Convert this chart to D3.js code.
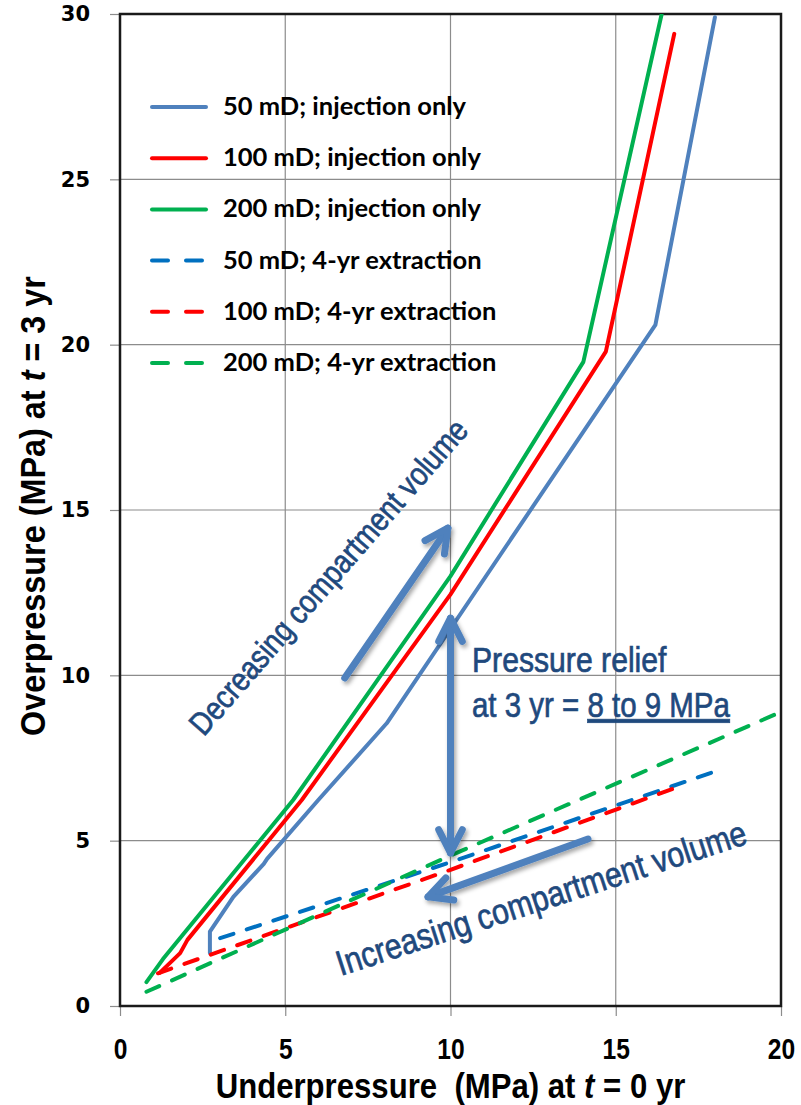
<!DOCTYPE html>
<html>
<head>
<meta charset="utf-8">
<script src="https://cdn.jsdelivr.net/npm/d3@7"></script>
<style>
  body { margin: 0; background: #fff; }
  svg { display: block; }
</style>
</head>
<body>
<svg id="chart" width="801" height="1105"></svg>
<script>
// series: [underpressure at t=0, overpressure at t=3]
const inj50 = [[2.72, 1.6], [2.72, 2.25], [3.43, 3.3], [4.35, 4.3], [4.45, 4.45], [6.0, 6.23], [8.07, 8.55], [16.2, 20.6], [18.0, 29.9]];
const inj100 = [[1.2, 1.0], [1.82, 1.6], [2.04, 2.0], [5.5, 6.23], [10.0, 12.45], [14.7, 19.79], [16.77, 29.4]];
const inj200 = [[0.8, 0.72], [1.3, 1.42], [5.24, 6.23], [10.0, 13.0], [14.02, 19.48], [16.39, 30]];
const ext50 = [[3.03, 2.05], [10.0, 4.35], [18.0, 7.09]];
const ext100 = [[1.15, 0.99], [10.0, 4.12], [17.04, 6.68]];
const ext200 = [[0.8, 0.43], [10.0, 4.55], [19.9, 8.85]];

const seriesNames = [
  "50 mD; injection only",
  "100 mD; injection only",
  "200 mD; injection only",
  "50 mD; 4-yr extraction",
  "100 mD; 4-yr extraction",
  "200 mD; 4-yr extraction",
];
const xTicks = [0, 5, 10, 15, 20];
const yTicks = [0, 5, 10, 15, 20, 25, 30];

const series = [
  { name: seriesNames[0], data: inj50, color: "#4f81bd", dashed: false },
  { name: seriesNames[1], data: inj100, color: "#ff0000", dashed: false },
  { name: seriesNames[2], data: inj200, color: "#00b050", dashed: false },
  { name: seriesNames[3], data: ext50, color: "#0070c0", dashed: true },
  { name: seriesNames[4], data: ext100, color: "#ff0000", dashed: true },
  { name: seriesNames[5], data: ext200, color: "#00b050", dashed: true },
];

// no narrow font installed: squeeze Liberation Sans horizontally instead
const sans = "'Liberation Sans', Arial, sans-serif";
const arrowColor = "#4f81bd";
const noteColor = "#1f497d";

const svg = d3.select("#chart");
const x = d3.scaleLinear().domain([0, 20]).range([120, 781]);
const y = d3.scaleLinear().domain([0, 30]).range([1006, 14]);
const [x0, x1] = x.range();
const [y0, y1] = y.range();

const defs = svg.append("defs");
defs.append("clipPath").attr("id", "plotClip")
  .append("rect").attr("x", x0).attr("y", y1).attr("width", x1 - x0).attr("height", y0 - y1);
defs.append("filter").attr("id", "shadow").attr("x", "-20%").attr("y", "-20%").attr("width", "140%").attr("height", "140%")
  .append("feDropShadow").attr("dx", 2).attr("dy", 3).attr("stdDeviation", 2)
  .attr("flood-color", "#000").attr("flood-opacity", 0.35);

// grid
svg.append("g")
  .selectAll("line").data(xTicks.slice(1, -1)).join("line")
  .attr("x1", (d) => x(d)).attr("x2", (d) => x(d)).attr("y1", y1).attr("y2", y0)
  .attr("stroke", "#8c8c8c").attr("stroke-width", 1.2);
svg.append("g")
  .selectAll("line").data(yTicks.slice(1, -1)).join("line")
  .attr("y1", (d) => y(d)).attr("y2", (d) => y(d)).attr("x1", x0).attr("x2", x1)
  .attr("stroke", "#8c8c8c").attr("stroke-width", 1.2);

// axes
const yAxis = svg.append("g").attr("transform", `translate(${x0},0)`)
  .call(d3.axisLeft(y).tickValues(yTicks).tickSize(10).tickPadding(20).tickFormat(d3.format("d")));
yAxis.select(".domain").remove();
yAxis.selectAll("line").attr("stroke", "#8c8c8c").attr("stroke-width", 1.2);
yAxis.selectAll("text").attr("font-family", "'DejaVu Sans', Verdana, sans-serif")
  .attr("font-weight", "bold").attr("font-size", 21).attr("fill", "#000");

const xAxis = svg.append("g").attr("transform", `translate(0,${y0})`)
  .call(d3.axisBottom(x).tickValues(xTicks).tickSize(10).tickPadding(22).tickFormat(d3.format("d")));
xAxis.select(".domain").remove();
xAxis.selectAll("line").attr("stroke", "#8c8c8c").attr("stroke-width", 1.2);
xAxis.selectAll("text").attr("font-family", sans)
  .attr("font-weight", "bold").attr("font-size", 30).attr("fill", "#000")
  .attr("transform", "scale(0.82,1)");

// frame
svg.append("rect").attr("x", x0).attr("y", y1).attr("width", x1 - x0).attr("height", y0 - y1)
  .attr("fill", "none").attr("stroke", "#1a1a1a").attr("stroke-width", 2.5);

// axis titles
const xTitle = svg.append("text")
  .attr("transform", `translate(${x(10)},1098) scale(0.865,1)`).attr("text-anchor", "middle")
  .attr("font-family", sans).attr("font-weight", "bold").attr("font-size", 36)
  .attr("style", "white-space:pre");
xTitle.append("tspan").text("Underpressure  (MPa) at ");
xTitle.append("tspan").text("t").attr("font-style", "italic");
xTitle.append("tspan").text(" = 0 yr");

const yTitle = svg.append("text")
  .attr("transform", `translate(45,506) rotate(-90) scale(0.9,1)`).attr("text-anchor", "middle")
  .attr("font-family", sans).attr("font-weight", "bold").attr("font-size", 36);
yTitle.append("tspan").text("Overpressure (MPa) at ");
yTitle.append("tspan").text("t").attr("font-style", "italic");
yTitle.append("tspan").text(" = 3 yr");

// lines
const line = d3.line().x((d) => x(d[0])).y((d) => y(d[1]));
svg.append("g").attr("clip-path", "url(#plotClip)")
  .selectAll("path").data(series).join("path")
  .attr("d", (d) => line(d.data))
  .attr("fill", "none")
  .attr("stroke", (d) => d.color)
  .attr("stroke-width", 4)
  .attr("stroke-linejoin", "round")
  .attr("stroke-linecap", "round")
  .attr("stroke-dasharray", (d) => (d.dashed ? "14,14" : null));

// legend
const legendRows = svg.append("g").selectAll("g").data(series).join("g")
  .attr("transform", (d, i) => `translate(152,${107 + i * 51.2})`);
legendRows.append("line")
  .attr("x1", 0).attr("x2", (d) => (d.dashed ? 52 : 54)).attr("y1", 0).attr("y2", 0)
  .attr("stroke", (d) => d.color).attr("stroke-width", 4).attr("stroke-linecap", "round")
  .attr("stroke-dasharray", (d) => (d.dashed ? "16,18" : null));
legendRows.append("text").attr("x", 71).attr("y", 8)
  .attr("font-family", "Lato, 'Open Sans', sans-serif").attr("font-weight", "bold")
  .attr("font-size", 25.5).attr("fill", "#000").text((d) => d.name);

// annotation arrows (positions in data units)
const arrows = [
  { from: [6.8, 9.92], to: [9.92, 14.45], heads: ["end"] },
  { from: [10.0, 11.73], to: [10.0, 4.63], heads: ["start", "end"] },
  { from: [14.16, 5.05], to: [9.32, 3.3], heads: ["end"] },
];
const arrowG = svg.append("g").attr("filter", "url(#shadow)")
  .attr("stroke", arrowColor).attr("stroke-width", 7).attr("fill", "none")
  .attr("stroke-linecap", "round").attr("stroke-linejoin", "round");
arrows.forEach((a) => {
  const p0 = [x(a.from[0]), y(a.from[1])];
  const p1 = [x(a.to[0]), y(a.to[1])];
  arrowG.append("path").attr("d", d3.line()([p0, p1]));
  const head = (tip, tail) => {
    const ang = Math.atan2(tail[1] - tip[1], tail[0] - tip[0]);
    const len = 26;
    const spread = 0.47;
    const pA = [tip[0] + len * Math.cos(ang + spread), tip[1] + len * Math.sin(ang + spread)];
    const pB = [tip[0] + len * Math.cos(ang - spread), tip[1] + len * Math.sin(ang - spread)];
    arrowG.append("path").attr("d", d3.line()([pA, tip, pB]));
  };
  if (a.heads.includes("end")) head(p1, p0);
  if (a.heads.includes("start")) head(p0, p1);
});

// annotation text
const notes = svg.append("g").attr("font-family", sans).attr("fill", noteColor)
  .attr("stroke", noteColor).attr("stroke-width", 0.7);
notes.append("text")
  .attr("transform", `translate(${x(6.3)},${y(12.98)}) rotate(-49) scale(0.85,1)`)
  .attr("text-anchor", "middle").attr("dy", "0.35em").attr("font-size", 32.5)
  .text("Decreasing compartment volume");

notes.append("text")
  .attr("transform", `translate(${x(12.74)},${y(3.27)}) rotate(-18) scale(0.85,1)`)
  .attr("text-anchor", "middle").attr("dy", "0.35em").attr("font-size", 35.5)
  .text("Increasing compartment volume");

notes.append("text").attr("font-size", 35.5)
  .attr("transform", `translate(${x(10.65)},${y(10.1)}) scale(0.85,1)`).text("Pressure relief");
const relief2 = notes.append("text").attr("font-size", 35.5)
  .attr("transform", `translate(${x(10.65)},${y(8.74)}) scale(0.83,1)`);
relief2.append("tspan").text("at 3 yr = ");
relief2.append("tspan").attr("text-decoration", "underline").text("8 to 9 MPa");
</script>
</body>
</html>
